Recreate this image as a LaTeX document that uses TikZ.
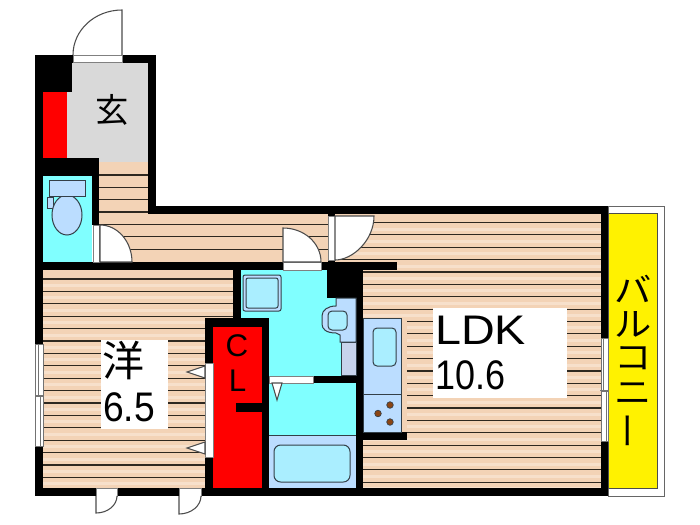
\documentclass[tikz,border=0pt]{standalone}
\usepackage{fontspec}
\usepackage{graphicx}
\setmainfont{Liberation Sans}
\newfontfamily\jpfont{Noto Sans CJK JP}
\definecolor{wood}{HTML}{F3D3B6}
\definecolor{woodlight}{HTML}{F7E0CB}
\definecolor{stripe}{HTML}{2E2820}
\definecolor{aqua}{HTML}{80FFFF}
\definecolor{fixture}{HTML}{BBDDFF}
\definecolor{basin}{HTML}{AAEEFF}
\definecolor{greyblue}{HTML}{C8D4EC}
\definecolor{entry}{HTML}{D9D9D9}
\definecolor{burner}{HTML}{8B4513}
\definecolor{edge}{HTML}{333F48}
\tikzset{
  px/.style={x=0.75pt,y=-0.75pt},
  wall/.style={fill=black},
  floorwood/.style={fill=wood},
  slat/.style={draw=stripe,line width=0.85pt},
  fix/.style={draw=edge,line width=0.75pt},
  doorleaf/.style={draw=black!70,line width=0.8pt,fill=white},
  opening/.style={fill=white,draw=black!50,line width=0.4pt},
  sash/.style={draw=black!55,line width=0.5pt,fill=white},
  bigtext/.style={inner sep=0pt,anchor=base west,font=\fontsize{31}{31}\selectfont},
  cltext/.style={inner sep=0pt,font=\fontsize{23.5}{23.5}\selectfont},
  jp/.style={inner sep=0pt,font=\jpfont\fontsize{#1}{#1}\selectfont},
}
\begin{document}
\begin{tikzpicture}[px]
\useasboundingbox (0,0) rectangle (700,525);
\fill[white] (0,0) rectangle (700,525);
% floors
\fill[entry] (72,63) rectangle (148,92);
\fill[entry] (67,92) rectangle (148,162);
\fill[red] (43,92) rectangle (67,158);
\fill[floorwood] (99,162) rectangle (148,214);
\fill[floorwood] (99,214) rectangle (335,262);
\fill[floorwood] (335,214) rectangle (601,262);
\fill[floorwood] (363,262) rectangle (601,488);
\fill[floorwood] (43,270) rectangle (233,319);
\fill[floorwood] (43,319) rectangle (205,488);
% lighter slat bands
\foreach \k in {0,...,21} {\fill[woodlight] (335,{222.5+12.37*\k+5}) rectangle (601,{222.5+12.37*\k+8});}
\foreach \k in {0,...,16} {\fill[woodlight] (43,{279+12.4*\k+5}) rectangle ({\k<4?233:205},{279+12.4*\k+8});}
% slat lines
\foreach \k in {0,...,2} {\draw[slat] (99,{175+12.35*\k}) -- (148,{175+12.35*\k});}
\foreach \k in {3,...,6} {\draw[slat] (99,{175+12.35*\k}) -- (330,{175+12.35*\k});}
\foreach \k in {0,...,21} {\draw[slat] (335,{222.5+12.37*\k}) -- (601,{222.5+12.37*\k});}
\foreach \k in {0,...,16} {\draw[slat] (43,{279+12.4*\k}) -- ({\k<4?233:205},{279+12.4*\k});}
\fill[floorwood] (401,318) rectangle (407,432);
% aqua rooms
\fill[aqua] (43,176) rectangle (92,262);
\fill[aqua] (241,270) rectangle (327,318);
\fill[aqua] (269,298) rectangle (341,376);
\fill[aqua] (269,383) rectangle (356,435);
\fill[red] (213,327) rectangle (262,488);
% label plates
\fill[white] (101,340) rectangle (168,429);
\fill[white] (433,308) rectangle (567,398);
% balcony
\draw[black!60,line width=0.7pt] (608,206) rectangle (664,496);
\draw[fill=yellow,draw=black!70,line width=0.7pt] (608,213) rectangle (657,488);
% walls
\fill[wall] (35,55) rectangle (43,496);
\fill[wall] (35,55) rectangle (156,63);
\fill[wall] (148,55) rectangle (156,214);
\fill[wall] (43,63) rectangle (72,92);
\fill[wall] (43,158) rectangle (99,176);
\fill[wall] (92,176) rectangle (99,225);
\fill[wall] (148,206) rectangle (608,214);
\fill[wall] (35,262) rectangle (397,270);
\fill[wall] (233,270) rectangle (241,318);
\fill[wall] (205,318) rectangle (269,327);
\fill[wall] (205,327) rectangle (213,488);
\fill[wall] (262,327) rectangle (269,488);
\fill[wall] (236,403) rectangle (262,412);
\fill[wall] (35,488) rectangle (608,496);
\fill[wall] (601,206) rectangle (608,496);
\fill[wall] (327,262) rectangle (363,298);
\fill[wall] (356,298) rectangle (363,496);
\fill[wall] (328,214) rectangle (335,262);
\fill[wall] (313,376) rectangle (356,383);
\fill[wall] (363,432) rectangle (407,440);
% openings
\fill[opening] (73,55) rectangle (122,62);
\fill[opening] (93,225) rectangle (99,262);
\fill[opening] (283,262) rectangle (321,270);
\fill[opening] (328,216) rectangle (335,260);
\fill[opening] (269,376) rectangle (313,383);
\fill[opening] (205,363) rectangle (213,457);
\fill[opening] (96,488) rectangle (117,496);
\fill[opening] (179,488) rectangle (201,496);
% door leaves
\draw[doorleaf,fill=none] (122,55) -- (122,10) .. controls (95,10) and (73,30) .. (73,55);
\draw[doorleaf] (100,262) -- (100,225) .. controls (118,225) and (132,242) .. (132,262) -- cycle;
\draw[doorleaf] (283,262) -- (283,228) .. controls (304,228) and (321,243) .. (321,262) -- cycle;
\draw[doorleaf] (335,216) -- (374,216) .. controls (374,240) and (353,260) .. (335,260) -- cycle;
\draw[doorleaf] (96,496) -- (96,513) .. controls (108,513) and (117,505) .. (117,496);
\draw[doorleaf] (179,496) -- (179,514) .. controls (191,514) and (201,506) .. (201,496);
% door stop triangles
\draw[doorleaf] (205,366) -- (187,372) -- (205,378) -- cycle;
\draw[doorleaf] (205,442) -- (187,448) -- (205,454) -- cycle;
\draw[doorleaf] (272,383) -- (277,400) -- (282,383) -- cycle;
% windows
\draw[sash] (35,344) rectangle (43,396);
\draw[sash] (35,396) rectangle (43,446);
\draw[black!55,line width=0.5pt] (38,344) -- (38,396) (40,396) -- (40,446) (35,395) -- (44,395);
\draw[sash] (601,338) rectangle (608,391);
\draw[sash] (601,391) rectangle (608,441);
\draw[black!55,line width=0.5pt] (603,338) -- (603,391) (606,391) -- (606,441) (600,390) -- (609,390);
% toilet
\draw[fix,fill=fixture] (47,197) rectangle (53,208);
\draw[fix,fill=fixture] (67,215) ellipse [x radius=15,y radius=20];
\draw[fix,fill=fixture] (49,180) rectangle (85,196);
% washer pan
\draw[fix,fill=fixture,rounded corners=1.5pt] (243,275) rectangle (281,311);
\draw[fix,fill=basin,rounded corners=1.5pt] (246,278) rectangle (278,308);
% wash basin
\draw[fix,fill=greyblue] (341,342) rectangle (356,375);
\draw[fix,fill=fixture] (336,298) -- (356,298) -- (356,342) -- (340,342) -- (340,335) -- (336,333)
  .. controls (326,333) and (322,329) .. (322,324) -- (322,316) .. controls (322,310) and (328,306) .. (336,306) -- cycle;
\draw[fix,fill=basin,rounded corners=3pt] (328,311) rectangle (347,330);
% tub
\fill[fixture] (269,435) rectangle (356,488);
\draw[fix] (269,435) -- (356,435);
\draw[fix,fill=basin,rounded corners=5pt] (274,445) rectangle (350,482);
% kitchen
\draw[fix,fill=fixture] (363,318) rectangle (401,432);
\draw[fix] (363,394) -- (401,394);
\draw[fix,fill=basin,rounded corners=3pt] (373,328) rectangle (396,366);
\foreach \cx/\cy in {390/405,378/413.5,390/422} {\draw[draw=edge,line width=0.5pt,fill=burner] (\cx,\cy) circle [radius=3.3];}
% labels
\node[jp=25] (genkan) at (112,110) {玄};
\node[jp=31.5] (yoshitsu) at (123,361) {洋};
\node[bigtext] (yosize) at (103,421) {\scalebox{0.9}[1]{6.5}};
\node[bigtext] (ldk) at (435,344) {\scalebox{1.13}[1]{LDK}};
\node[bigtext] (ldksize) at (435,389) {\scalebox{0.87}[1]{10.6}};
\node[cltext] (clc) at (237,346) {C};
\node[cltext] (cll) at (237.5,381) {L};
\node[jp=25] (ba) at (633,289) {\scalebox{1.12}[1]{バ}};
\node[jp=25] (ru) at (633,324) {\scalebox{1.12}[1]{ル}};
\node[jp=25] (ko) at (633,358) {\scalebox{1.12}[1]{コ}};
\node[jp=25] (ni) at (633,394) {\scalebox{1.12}[1]{ニ}};
\node[jp=25,rotate=90] (bar) at (633,431) {\scalebox{1.12}[1]{ー}};
\end{tikzpicture}
\end{document}
